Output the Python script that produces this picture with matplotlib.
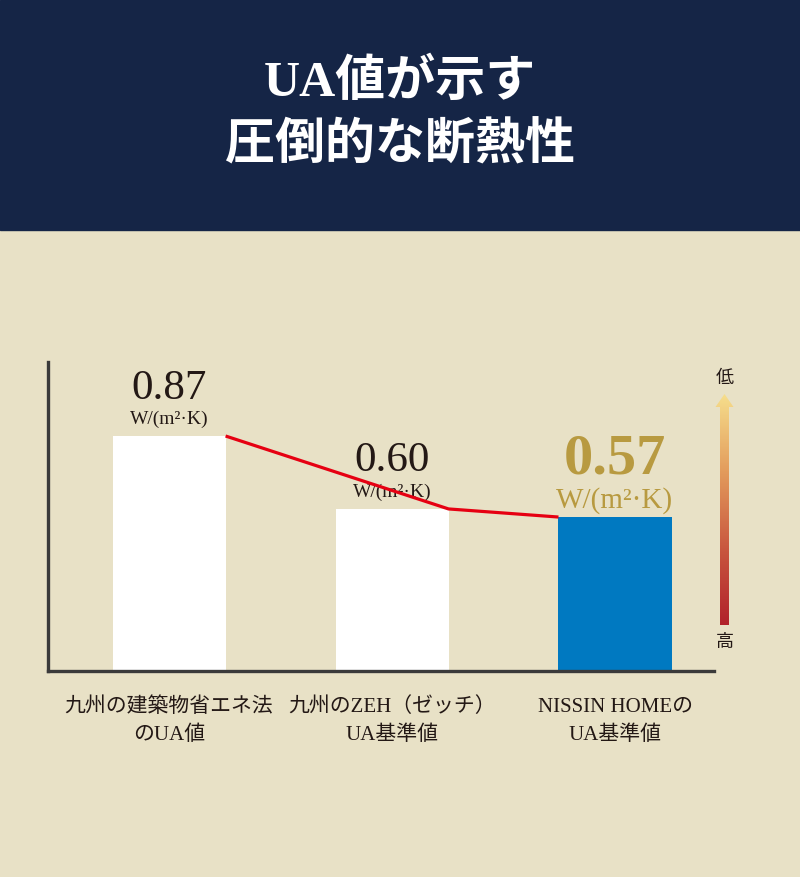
import matplotlib
matplotlib.use('Agg')
import matplotlib.pyplot as plt
import numpy as np
from matplotlib.patches import Rectangle, Polygon
from matplotlib.colors import LinearSegmentedColormap

# data
categories = ['九州の建築物省エネ法\nのUA値', '九州のZEH（ゼッチ）\nUA基準値', 'NISSIN HOMEの\nUA基準値']
values = [0.87, 0.60, 0.57]
value_labels = ['0.87', '0.60', '0.57']
unit = 'W/(m²·K)'
bar_colors = ['#ffffff', '#ffffff', '#0079c1']
title_lines = ['UA値が示す', '圧倒的な断熱性']

JP = ['Liberation Serif', 'Noto Sans CJK JP', 'DejaVu Sans']
BG = '#e8e1c6'
NAVY = '#152546'
GOLD = '#b89a40'
INK = '#231815'

fig = plt.figure(figsize=(8, 8.77), dpi=100)
fig.patch.set_facecolor(BG)

# overlay in pixel coords for header + arrow
ov = fig.add_axes([0, 0, 1, 1])
ov.set_xlim(0, 800)
ov.set_ylim(877, 0)
ov.axis('off')
ov.add_patch(Rectangle((0, 0), 800, 230, color=NAVY, zorder=0))
ov.text(400, 83, title_lines[0], ha='center', va='center', color='white',
        fontsize=36, fontweight='bold', family=JP)
ov.text(400, 147, title_lines[1], ha='center', va='center', color='white',
        fontsize=36, fontweight='bold', family=JP)

# gradient arrow (low = good at top)
cmap = LinearSegmentedColormap.from_list('ua', ['#f6de8c', '#e39c5c', '#c9573f', '#b1222a'])
grad = np.linspace(0, 1, 256).reshape(-1, 1)
im = ov.imshow(grad, cmap=cmap, extent=(715, 734, 625, 394), aspect='auto', zorder=2)
arrow = Polygon([(720, 625), (729, 625), (729, 407), (733.5, 407), (724.5, 394),
                 (715.5, 407), (720, 407)], closed=True, facecolor='none', edgecolor='none')
ov.add_patch(arrow)
im.set_clip_path(arrow)
ov.text(724.5, 378, '低', ha='center', va='center', fontsize=13, color=INK, family=JP)
ov.text(724.5, 642, '高', ha='center', va='center', fontsize=13, color=INK, family=JP)

# chart
ax = fig.add_axes([48 / 800, 1 - 671 / 877, (714 - 48) / 800, (671 - 362) / 877])
ax.set_facecolor('none')
x = np.arange(len(values))
w = 0.507
ax.bar(x, values, width=w, color=bar_colors, zorder=2)
ax.set_xlim(-0.543, 2.444)
ax.set_ylim(0, 1.144)

# red trend line between bar tops
lx = [x[0] + w / 2, x[1] + w / 2, x[2] - w / 2]
ax.plot(lx, values, color='#e60012', lw=2.3, zorder=4, solid_capstyle='butt')

for s in ['top', 'right']:
    ax.spines[s].set_visible(False)
for s in ['left', 'bottom']:
    ax.spines[s].set_linewidth(2.4)
    ax.spines[s].set_color('#3a3a3a')
ax.set_xticks(x)
ax.set_xticklabels(categories, family=JP, fontsize=15, color=INK, linespacing=1.6)
ax.tick_params(axis='x', length=0, pad=19)
ax.set_yticks([])

for i, (v, lab) in enumerate(zip(values, value_labels)):
    if i < 2:
        ax.annotate(lab, (x[i], v), xytext=(0, 27), textcoords='offset points',
                    ha='center', va='baseline', fontsize=31, color=INK, family='Liberation Serif')
        ax.annotate(unit, (x[i], v), xytext=(0, 8.5), textcoords='offset points',
                    ha='center', va='baseline', fontsize=14, color=INK, family='Liberation Serif')
    else:
        ax.annotate(lab, (x[i], v), xytext=(0, 31), textcoords='offset points',
                    ha='center', va='baseline', fontsize=42, color=GOLD, fontweight='bold',
                    family='Liberation Serif')
        ax.annotate(unit, (x[i], v), xytext=(0, 6.5), textcoords='offset points',
                    ha='center', va='baseline', fontsize=21, color=GOLD, family='Liberation Serif')

fig.savefig('out.png', dpi=100, facecolor=BG)
